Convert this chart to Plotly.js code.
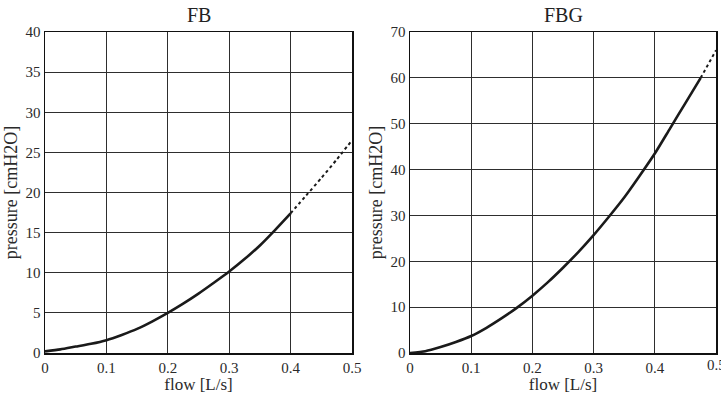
<!DOCTYPE html>
<html><head><meta charset="utf-8">
<script src="https://cdn.plot.ly/plotly-3.0.1.min.js"></script>
<style>html,body{margin:0;padding:0;background:#fff}#c{width:721px;height:394px}</style>
</head><body><div id="c"></div>
<script>
// FB (left) — solid part and sparse dotted tail
const fbFlow      = [0, 0.025, 0.05, 0.075, 0.1, 0.125, 0.15, 0.175, 0.2, 0.225, 0.25, 0.275, 0.3, 0.325, 0.35, 0.375, 0.4];
const fbPressure  = [0.2, 0.45, 0.8, 1.15, 1.6, 2.25, 3.0, 3.95, 5.0, 6.15, 7.4, 8.75, 10.15, 11.7, 13.4, 15.35, 17.4];
const fbTailFlow  = [0.4, 0.425, 0.45, 0.475, 0.5];
const fbTailPress = [17.4, 19.6, 21.8, 24.1, 26.5];
// FBG (right)
const fbgFlow      = [0, 0.025, 0.05, 0.075, 0.1, 0.125, 0.15, 0.175, 0.2, 0.225, 0.25, 0.275, 0.3, 0.325, 0.35, 0.375, 0.4, 0.425, 0.45, 0.475];
const fbgPressure  = [0, 0.4, 1.3, 2.4, 3.7, 5.5, 7.6, 9.9, 12.5, 15.4, 18.6, 22.0, 25.7, 29.7, 33.9, 38.6, 43.5, 49.0, 54.5, 60.0];
const fbgTailFlow  = [0.475, 0.4875, 0.5];
const fbgTailPress = [60.0, 63.0, 66.0];

const xTicks = [0, 0.1, 0.2, 0.3, 0.4, 0.5];
const xTickText = ['0', '0.1', '0.2', '0.3', '0.4', '0.5'];
const yTicksFB = [0, 5, 10, 15, 20, 25, 30, 35, 40];
const yTicksFBG = [0, 10, 20, 30, 40, 50, 60, 70];
const titles = ['FB', 'FBG'];
const xTitle = 'flow [L/s]';
const yTitle = 'pressure [cmH2O]';

const font = 'Liberation Serif, Times New Roman, serif';
const lineCol = '#1a1a1a';
const gridCol = '#2e2e2e';
const textCol = '#2a2a2a';

const traces = [
  {x: fbFlow, y: fbPressure, xaxis: 'x', yaxis: 'y', mode: 'lines', line: {color: lineCol, width: 2.6, shape: 'spline', smoothing: 0.6}, hoverinfo: 'skip'},
  {x: fbTailFlow, y: fbTailPress, xaxis: 'x', yaxis: 'y', mode: 'lines', line: {color: lineCol, width: 2, dash: 'dot', shape: 'spline', smoothing: 0.6}, hoverinfo: 'skip'},
  {x: fbgFlow, y: fbgPressure, xaxis: 'x2', yaxis: 'y2', mode: 'lines', line: {color: lineCol, width: 2.6, shape: 'spline', smoothing: 0.6}, hoverinfo: 'skip'},
  {x: fbgTailFlow, y: fbgTailPress, xaxis: 'x2', yaxis: 'y2', mode: 'lines', line: {color: lineCol, width: 2, dash: 'dot'}, hoverinfo: 'skip'}
];

const yDom = [41/394, 362/394];
function xax(dom, anchor) {
  return {domain: dom, anchor: anchor, range: [0, 0.5], tickvals: xTicks, ticktext: xTickText,
    showgrid: true, gridcolor: gridCol, gridwidth: 1, zeroline: false,
    showline: true, linecolor: '#111', linewidth: 1.5, mirror: true, ticks: '',
    tickfont: {family: font, size: 15, color: textCol},
    title: {text: xTitle, font: {family: font, size: 17, color: textCol}, standoff: 3}};
}
function yax(range, ticks, anchor, dom) {
  return {domain: dom, anchor: anchor, range: range, tickvals: ticks,
    showgrid: true, gridcolor: gridCol, gridwidth: 1, zeroline: false,
    showline: true, linecolor: '#111', linewidth: 1.5, mirror: true, ticks: '',
    tickfont: {family: font, size: 15, color: textCol},
    title: {text: yTitle, font: {family: font, size: 18, color: textCol}, standoff: 3}};
}

const layout = {
  width: 721, height: 394,
  margin: {l: 0, r: 0, t: 0, b: 0},
  paper_bgcolor: '#fff', plot_bgcolor: '#fff',
  showlegend: false,
  xaxis: xax([45/721, 352/721], 'y'),
  yaxis: yax([0, 40], yTicksFB, 'x', yDom),
  xaxis2: xax([410/721, 716/721], 'y2'),
  yaxis2: yax([0, 70], yTicksFBG, 'x2', yDom),
  annotations: [
    {text: titles[0], xref: 'paper', yref: 'paper', x: (45+352)/2/721, y: 1 - 15/394, xanchor: 'center', yanchor: 'middle', showarrow: false, font: {family: font, size: 20, color: '#222'}},
    {text: titles[1], xref: 'paper', yref: 'paper', x: (410+716)/2/721, y: 1 - 15/394, xanchor: 'center', yanchor: 'middle', showarrow: false, font: {family: font, size: 20, color: '#222'}},
    {text: xTickText[5], xref: 'x2', yref: 'paper', x: xTicks[5], y: 41/394, xanchor: 'center', yanchor: 'top', yshift: -2, showarrow: false, font: {family: font, size: 15, color: textCol}}
  ]
};
Plotly.newPlot('c', traces, layout, {staticPlot: true, displayModeBar: false});
</script></body></html>
